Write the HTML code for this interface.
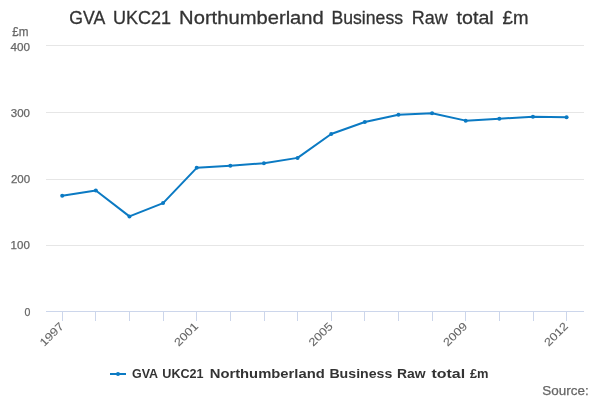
<!DOCTYPE html>
<html><head><meta charset="utf-8"><title>GVA UKC21 Northumberland Business Raw total £m</title>
<style>
html,body{margin:0;padding:0;background:#fff;}
body{width:600px;height:400px;overflow:hidden;font-family:"Liberation Sans",sans-serif;}
svg{display:block;will-change:transform;font-family:"Liberation Sans",sans-serif;}
.ax{font-size:11.2px;fill:#666666;stroke:#666666;stroke-width:0.25px;}
.xl{font-size:11.2px;fill:#666666;stroke:#666666;stroke-width:0.08px;}
.pm{font-size:12.2px;fill:#666666;stroke:#666666;stroke-width:0.25px;}
.title{font-size:19px;fill:#333333;stroke:#333333;stroke-width:0.3px;}
.leg{font-size:12.7px;font-weight:bold;fill:#333333;}
.src{font-size:13.5px;fill:#666666;stroke:#666666;stroke-width:0.25px;}
</style></head><body>
<svg width="600" height="400" viewBox="0 0 600 400">
<rect x="0" y="0" width="600" height="400" fill="#ffffff"/>
<rect x="46" y="45" width="538" height="1" fill="#e6e6e6"/><rect x="46" y="112" width="538" height="1" fill="#e6e6e6"/><rect x="46" y="179" width="538" height="1" fill="#e6e6e6"/><rect x="46" y="245" width="538" height="1" fill="#e6e6e6"/>
<rect x="46" y="311" width="538" height="1" fill="#ccd6eb"/>
<rect x="62" y="311" width="1" height="10" fill="#ccd6eb"/><rect x="95" y="311" width="1" height="10" fill="#ccd6eb"/><rect x="129" y="311" width="1" height="10" fill="#ccd6eb"/><rect x="163" y="311" width="1" height="10" fill="#ccd6eb"/><rect x="196" y="311" width="1" height="10" fill="#ccd6eb"/><rect x="230" y="311" width="1" height="10" fill="#ccd6eb"/><rect x="264" y="311" width="1" height="10" fill="#ccd6eb"/><rect x="297" y="311" width="1" height="10" fill="#ccd6eb"/><rect x="331" y="311" width="1" height="10" fill="#ccd6eb"/><rect x="364" y="311" width="1" height="10" fill="#ccd6eb"/><rect x="398" y="311" width="1" height="10" fill="#ccd6eb"/><rect x="432" y="311" width="1" height="10" fill="#ccd6eb"/><rect x="465" y="311" width="1" height="10" fill="#ccd6eb"/><rect x="499" y="311" width="1" height="10" fill="#ccd6eb"/><rect x="533" y="311" width="1" height="10" fill="#ccd6eb"/><rect x="566" y="311" width="1" height="10" fill="#ccd6eb"/>
<text x="69.29" y="24" class="title" textLength="35.94" lengthAdjust="spacingAndGlyphs">GVA</text>
<text x="112.92" y="24" class="title" textLength="58.07" lengthAdjust="spacingAndGlyphs">UKC21</text>
<text x="179.11" y="24" class="title" textLength="144.69" lengthAdjust="spacingAndGlyphs">Northumberland</text>
<text x="331.52" y="24" class="title" textLength="71.5" lengthAdjust="spacingAndGlyphs">Business</text>
<text x="411.69" y="24" class="title" textLength="35.92" lengthAdjust="spacingAndGlyphs">Raw</text>
<text x="456.57" y="24" class="title" textLength="37.16" lengthAdjust="spacingAndGlyphs">total</text>
<text x="502.61" y="24" class="title" textLength="25.9" lengthAdjust="spacingAndGlyphs">£m</text>
<text x="12.29" y="36" class="pm" textLength="16.25" lengthAdjust="spacingAndGlyphs">£m</text>
<text x="10.48" y="50.5" class="ax" textLength="19.49" lengthAdjust="spacingAndGlyphs">400</text>
<text x="10.84" y="117" class="ax" textLength="19.2" lengthAdjust="spacingAndGlyphs">300</text>
<text x="10.93" y="183" class="ax" textLength="19.18" lengthAdjust="spacingAndGlyphs">200</text>
<text x="10.62" y="249" class="ax" textLength="19.26" lengthAdjust="spacingAndGlyphs">100</text>
<text x="24.6" y="316" class="ax" textLength="5.9" lengthAdjust="spacingAndGlyphs">0</text>
<text x="64.4" y="327" text-anchor="end" class="xl" textLength="28.4" lengthAdjust="spacingAndGlyphs" transform="rotate(-45 64.4 327)">1997</text><text x="198.9" y="327" text-anchor="end" class="xl" textLength="28.4" lengthAdjust="spacingAndGlyphs" transform="rotate(-45 198.9 327)">2001</text><text x="333.4" y="327" text-anchor="end" class="xl" textLength="28.4" lengthAdjust="spacingAndGlyphs" transform="rotate(-45 333.4 327)">2005</text><text x="467.9" y="327" text-anchor="end" class="xl" textLength="28.4" lengthAdjust="spacingAndGlyphs" transform="rotate(-45 467.9 327)">2009</text><text x="568.8" y="327" text-anchor="end" class="xl" textLength="28.4" lengthAdjust="spacingAndGlyphs" transform="rotate(-45 568.8 327)">2012</text>
<polyline points="62.21,195.79 95.84,190.47 129.46,216.41 163.09,203.10 196.71,167.86 230.34,165.86 263.96,163.20 297.59,157.88 331.21,133.94 364.84,121.97 398.46,114.66 432.09,113.33 465.71,120.64 499.34,118.65 532.96,116.66 566.59,117.32" fill="none" stroke="#0b7ac3" stroke-width="2" stroke-linejoin="round" stroke-linecap="round"/>
<circle cx="62.21" cy="195.79" r="2" fill="#0b7ac3"/><circle cx="95.84" cy="190.47" r="2" fill="#0b7ac3"/><circle cx="129.46" cy="216.41" r="2" fill="#0b7ac3"/><circle cx="163.09" cy="203.10" r="2" fill="#0b7ac3"/><circle cx="196.71" cy="167.86" r="2" fill="#0b7ac3"/><circle cx="230.34" cy="165.86" r="2" fill="#0b7ac3"/><circle cx="263.96" cy="163.20" r="2" fill="#0b7ac3"/><circle cx="297.59" cy="157.88" r="2" fill="#0b7ac3"/><circle cx="331.21" cy="133.94" r="2" fill="#0b7ac3"/><circle cx="364.84" cy="121.97" r="2" fill="#0b7ac3"/><circle cx="398.46" cy="114.66" r="2" fill="#0b7ac3"/><circle cx="432.09" cy="113.33" r="2" fill="#0b7ac3"/><circle cx="465.71" cy="120.64" r="2" fill="#0b7ac3"/><circle cx="499.34" cy="118.65" r="2" fill="#0b7ac3"/><circle cx="532.96" cy="116.66" r="2" fill="#0b7ac3"/><circle cx="566.59" cy="117.32" r="2" fill="#0b7ac3"/>
<rect x="110" y="373" width="16" height="2" fill="#0b7ac3"/>
<circle cx="118" cy="374" r="2" fill="#0b7ac3"/>
<text x="132.04" y="378" class="leg" textLength="26.09" lengthAdjust="spacingAndGlyphs">GVA</text>
<text x="162.32" y="378" class="leg" textLength="41.32" lengthAdjust="spacingAndGlyphs">UKC21</text>
<text x="209.71" y="378" class="leg" textLength="115.0" lengthAdjust="spacingAndGlyphs">Northumberland</text>
<text x="329.41" y="378" class="leg" textLength="62.9" lengthAdjust="spacingAndGlyphs">Business</text>
<text x="397.07" y="378" class="leg" textLength="28.61" lengthAdjust="spacingAndGlyphs">Raw</text>
<text x="431.51" y="378" class="leg" textLength="33.68" lengthAdjust="spacingAndGlyphs">total</text>
<text x="469.91" y="378" class="leg" textLength="18.59" lengthAdjust="spacingAndGlyphs">£m</text>
<text x="542.33" y="395" class="src" textLength="46.4" lengthAdjust="spacingAndGlyphs">Source:</text>
</svg>
</body></html>
